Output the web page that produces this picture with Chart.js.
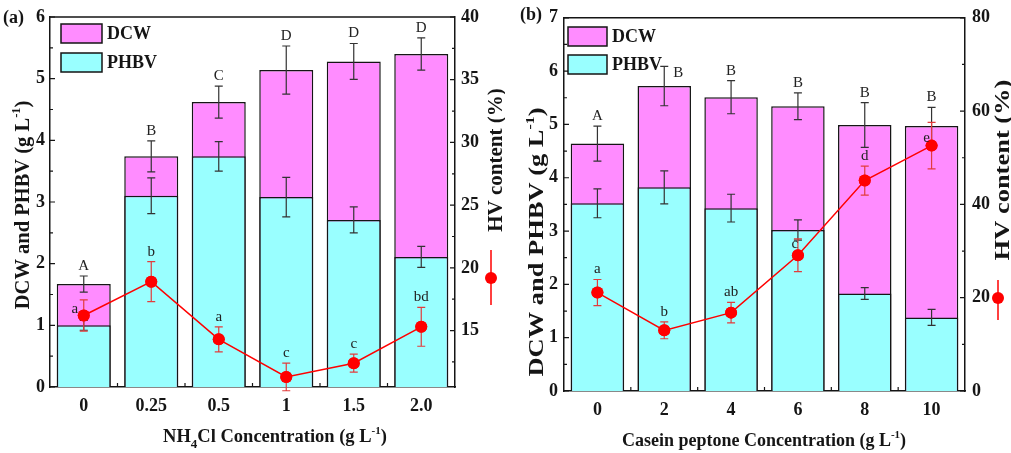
<!DOCTYPE html>
<html><head><meta charset="utf-8">
<script src="https://cdn.jsdelivr.net/npm/chart.js@4/dist/chart.umd.min.js"></script>
<style>
html,body{margin:0;padding:0;background:#fff;}
#wrap{position:relative;width:1011px;height:453px;overflow:hidden;}
canvas{position:absolute;top:0;}
</style></head><body>
<div id="wrap">
<canvas id="ca" width="505" height="453" style="left:0"></canvas>
<canvas id="cb" width="506" height="453" style="left:505px"></canvas>
</div>
<script>
// ---------- DATA: panel (a) NH4Cl ----------
const nh4clCategories = ['0', '0.25', '0.5', '1', '1.5', '2.0'];
const nh4clDCW = [1.67, 3.74, 4.62, 5.14, 5.28, 5.40];
const nh4clDCWErr = [0.13, 0.25, 0.26, 0.39, 0.29, 0.26];
const nh4clPHBV = [1.00, 3.10, 3.74, 3.08, 2.71, 2.11];
const nh4clPHBVErr = [0.08, 0.29, 0.24, 0.32, 0.21, 0.17];
const nh4clHV = [16.2, 18.9, 14.3, 11.3, 12.4, 15.3];
const nh4clHVErr = [1.24, 1.6, 1.0, 1.1, 0.72, 1.55];
const nh4clUpperLetters = ['A', 'B', 'C', 'D', 'D', 'D'];
const nh4clLowerLetters = ['a', 'b', 'a', 'c', 'c', 'bd'];
const nh4clLeftTicks = [0, 1, 2, 3, 4, 5, 6];
const nh4clRightTicks = [15, 20, 25, 30, 35, 40];

// ---------- DATA: panel (b) Casein peptone ----------
const caseinCategories = ['0', '2', '4', '6', '8', '10'];
const caseinDCW = [4.64, 5.72, 5.51, 5.34, 4.99, 4.97];
const caseinDCWErr = [0.33, 0.37, 0.31, 0.25, 0.42, 0.35];
const caseinPHBV = [3.52, 3.82, 3.43, 3.02, 1.83, 1.38];
const caseinPHBVErr = [0.27, 0.31, 0.26, 0.19, 0.11, 0.15];
const caseinHV = [21.1, 13.0, 16.8, 29.1, 45.1, 52.6];
const caseinHVErr = [2.8, 1.8, 2.2, 3.5, 3.1, 5.0];
const caseinUpperLetters = ['A', 'B', 'B', 'B', 'B', 'B'];
const caseinLowerLetters = ['a', 'b', 'ab', 'c', 'd', 'e'];
const caseinLeftTicks = [0, 1, 2, 3, 4, 5, 6, 7];
const caseinRightTicks = [0, 20, 40, 60, 80];

// ---------- STYLE ----------
const FONT = '"Liberation Serif", "Times New Roman", serif';
const MAGENTA = '#ff8cff';
const CYAN = '#99ffff';
const INK = '#151515';
const RED = '#ff0000';
const RED_ERR = '#e23c3c';

function richText(ctx, parts, cx, cy, rot, stretch) {
  ctx.save();
  ctx.translate(cx, cy);
  if (rot) ctx.rotate(rot);
  if (stretch) ctx.scale(stretch, 1);
  let total = 0;
  parts.forEach(p => { ctx.font = 'bold ' + p.s + 'px ' + FONT; p.w = ctx.measureText(p.t).width; total += p.w; });
  let x = -total / 2;
  ctx.textBaseline = 'alphabetic';
  ctx.textAlign = 'left';
  ctx.fillStyle = INK;
  parts.forEach(p => { ctx.font = 'bold ' + p.s + 'px ' + FONT; ctx.fillText(p.t, x, (p.dy || 0)); x += p.w; });
  ctx.restore();
}

function errBar(ctx, x, yTop, yBot, color, cap) {
  ctx.save();
  ctx.strokeStyle = color;
  ctx.lineWidth = 1.2;
  ctx.beginPath();
  ctx.moveTo(x, yTop); ctx.lineTo(x, yBot);
  ctx.moveTo(x - cap, yTop); ctx.lineTo(x + cap, yTop);
  ctx.moveTo(x - cap, yBot); ctx.lineTo(x + cap, yBot);
  ctx.stroke();
  ctx.restore();
}

function buildChart(canvasId, d, g) {
  const decor = {
    id: 'decor' + canvasId,
    afterDatasetDraw(chart, args) {
      const ds = chart.data.datasets[args.index];
      if (!ds.errors) return;
      const ctx = chart.ctx;
      const ys = chart.scales[ds.yAxisID || 'y'];
      args.meta.data.forEach((el, i) => {
        const v = ds.data[i], e = ds.errors[i];
        errBar(ctx, el.x, ys.getPixelForValue(v + e), ys.getPixelForValue(v - e), ds.errColor, 4);
      });
    },
    afterDraw(chart) {
      const ctx = chart.ctx;
      const ca = chart.chartArea;
      const xs = chart.scales.x, yl = chart.scales.y, yr = chart.scales.y2;
      ctx.save();
      ctx.strokeStyle = INK; ctx.lineWidth = 1.5;
      ctx.beginPath(); ctx.moveTo(ca.left, ca.top); ctx.lineTo(ca.right, ca.top); ctx.stroke();
      ctx.lineWidth = 1.2;
      ctx.beginPath();
      const lt = yl.ticks.map(t => t.value);
      lt.forEach((v, i) => {
        const p = yl.getPixelForValue(v);
        ctx.moveTo(ca.left, p); ctx.lineTo(ca.left + 5, p);
        if (i < lt.length - 1) {
          const m = yl.getPixelForValue((v + lt[i + 1]) / 2);
          ctx.moveTo(ca.left, m); ctx.lineTo(ca.left + 3, m);
        }
      });
      const rt = yr.ticks.map(t => t.value);
      const rstep = rt[1] - rt[0];
      rt.forEach((v) => {
        const p = yr.getPixelForValue(v);
        ctx.moveTo(ca.right, p); ctx.lineTo(ca.right - 5, p);
      });
      for (let v = rt[0] - rstep / 2; v < rt[rt.length - 1]; v += rstep) {
        if (v <= yr.min) continue;
        const m = yr.getPixelForValue(v);
        ctx.moveTo(ca.right, m); ctx.lineTo(ca.right - 3, m);
      }
      for (let i = 0; i < d.categories.length - 1; i++) {
        const b = (xs.getPixelForValue(i) + xs.getPixelForValue(i + 1)) / 2;
        ctx.moveTo(b, ca.bottom); ctx.lineTo(b, ca.bottom - 4);
      }
      ctx.stroke();

      const lineMeta = chart.getDatasetMeta(0);
      lineMeta.data.forEach((el, i) => {
        const v = d.hv[i], e = d.hvErr[i];
        errBar(ctx, el.x, yr.getPixelForValue(v + e), yr.getPixelForValue(v - e), RED_ERR, 4);
      });
      lineMeta.data.forEach(el => {
        ctx.beginPath(); ctx.fillStyle = RED; ctx.arc(el.x, el.y, 6, 0, Math.PI * 2); ctx.fill();
      });

      ctx.font = '15px ' + FONT;
      ctx.textAlign = 'center'; ctx.textBaseline = 'middle'; ctx.fillStyle = '#222';
      const dcwMeta = chart.getDatasetMeta(2);
      dcwMeta.data.forEach((el, i) => {
        const top = yl.getPixelForValue(d.dcw[i] + d.dcwErr[i]);
        const sp = g.upperShift[i];
        if (sp) ctx.fillText(d.upper[i], el.x + sp.dx, top + sp.dy);
        else ctx.fillText(d.upper[i], el.x, top - 10);
      });
      lineMeta.data.forEach((el, i) => {
        const top = yr.getPixelForValue(d.hv[i] + d.hvErr[i]);
        const sp = g.lowerShift[i];
        if (sp) ctx.fillText(d.lower[i], el.x + sp.dx, el.y + sp.dy);
        else ctx.fillText(d.lower[i], el.x, top - 10);
      });

      const lg = g.legend;
      [[2, lg.y1], [1, lg.y2]].forEach(([di, y]) => {
        const ds = chart.data.datasets[di];
        ctx.fillStyle = ds.backgroundColor;
        ctx.fillRect(lg.x, y, lg.w, lg.h);
        ctx.strokeStyle = INK; ctx.lineWidth = 1.5;
        ctx.strokeRect(lg.x, y, lg.w, lg.h);
        ctx.fillStyle = INK; ctx.font = 'bold 18px ' + FONT;
        ctx.textAlign = 'left'; ctx.textBaseline = 'middle';
        ctx.fillText(ds.label, lg.x + lg.w + 5, y + lg.h / 2 + 1);
      });

      ctx.font = 'bold 18px ' + FONT; ctx.textAlign = 'left'; ctx.textBaseline = 'middle'; ctx.fillStyle = INK;
      ctx.fillText(g.panel, g.panelX, g.panelY);

      const ys = g.ySize;
      richText(ctx, [{t: 'DCW and PHBV (g L', s: ys}, {t: '-1', s: ys * 0.6, dy: -ys * 0.45}, {t: ')', s: ys}], g.yTitle[0], g.yTitle[1], -Math.PI / 2, g.titleStretch);
      richText(ctx, g.xTitleParts, g.xTitle[0], g.xTitle[1], 0);
      richText(ctx, [{t: 'HV content (%)', s: g.rSize}], g.rTitle[0], g.rTitle[1], -Math.PI / 2, g.titleStretch);
      ctx.strokeStyle = RED; ctx.lineWidth = 1.5;
      ctx.beginPath(); ctx.moveTo(g.hvLeg.x, g.hvLeg.y0); ctx.lineTo(g.hvLeg.x, g.hvLeg.y1); ctx.stroke();
      ctx.fillStyle = RED; ctx.beginPath(); ctx.arc(g.hvLeg.x, g.hvLeg.dot, 6, 0, Math.PI * 2); ctx.fill();
      ctx.restore();
    }
  };

  return new Chart(document.getElementById(canvasId), {
    data: {
      labels: d.categories,
      datasets: [
        {type: 'line', label: 'HV content (%)', data: d.hv, yAxisID: 'y2', order: 0,
         borderColor: RED, borderWidth: 1.5, pointRadius: 6, pointBackgroundColor: RED,
         pointBorderWidth: 0, tension: 0},
        {type: 'bar', label: 'PHBV', data: d.phbv, yAxisID: 'y', order: 1, errors: d.phbvErr, errColor: '#333',
         backgroundColor: CYAN, borderColor: INK, borderWidth: 1.5, grouped: false,
         barPercentage: 0.8, categoryPercentage: 1.0},
        {type: 'bar', label: 'DCW', data: d.dcw, yAxisID: 'y', order: 2, errors: d.dcwErr, errColor: '#333',
         backgroundColor: MAGENTA, borderColor: INK, borderWidth: 1.5, grouped: false,
         barPercentage: 0.8, categoryPercentage: 1.0}
      ]
    },
    options: {
      responsive: false, animation: false, devicePixelRatio: 1,
      layout: {padding: {top: g.top, left: 0, right: 0, bottom: 0}},
      plugins: {legend: {display: false}, tooltip: {enabled: false}},
      scales: {
        x: {type: 'category', offset: true,
            grid: {display: false, drawTicks: false},
            border: {display: true, color: INK, width: 1.5},
            ticks: {font: {family: FONT, size: 18, weight: 'bold'}, color: INK, padding: 9},
            afterFit(s) { s.height = g.bottomH; }},
        y: {type: 'linear', position: 'left', min: d.leftTicks[0], max: d.leftTicks[d.leftTicks.length - 1],
            grid: {display: false, drawTicks: false},
            border: {display: true, color: INK, width: 1.5},
            ticks: {font: {family: FONT, size: 18, weight: 'bold'}, color: INK, padding: g.lPad},
            afterBuildTicks(s) { s.ticks = d.leftTicks.map(v => ({value: v})); },
            afterFit(s) { s.width = g.leftW; }},
        y2: {type: 'linear', position: 'right', min: d.rightMin, max: d.rightTicks[d.rightTicks.length - 1],
            grid: {display: false, drawTicks: false},
            border: {display: true, color: INK, width: 1.5},
            ticks: {font: {family: FONT, size: 18, weight: 'bold'}, color: INK, padding: g.rPad},
            afterBuildTicks(s) { s.ticks = d.rightTicks.map(v => ({value: v})); },
            afterFit(s) { s.width = g.rightW; }}
      }
    },
    plugins: [decor]
  });
}

buildChart('ca', {
  categories: nh4clCategories, dcw: nh4clDCW, dcwErr: nh4clDCWErr, phbv: nh4clPHBV, phbvErr: nh4clPHBVErr,
  hv: nh4clHV, hvErr: nh4clHVErr, upper: nh4clUpperLetters, lower: nh4clLowerLetters,
  leftTicks: nh4clLeftTicks, rightTicks: nh4clRightTicks, rightMin: 10.5
}, {
  top: 17, leftW: 50, rightW: 50, bottomH: 66, lPad: 5, rPad: 6,
  upperShift: {}, lowerShift: {0: {dx: -9, dy: -6}},
  legend: {x: 61, w: 41, h: 19, y1: 24, y2: 53},
  panel: '(a)', panelX: 3, panelY: 18,
  ySize: 20.5, yTitle: [29, 205], rSize: 21, rTitle: [502, 160], titleStretch: 1,
  xTitle: [275, 442],
  xTitleParts: [{t: 'NH', s: 18.5}, {t: '4', s: 13, dy: 6}, {t: 'Cl Concentration (g L', s: 18.5}, {t: '-1', s: 11, dy: -8}, {t: ')', s: 18.5}],
  hvLeg: {x: 491, y0: 250, y1: 305, dot: 278}
});

buildChart('cb', {
  categories: caseinCategories, dcw: caseinDCW, dcwErr: caseinDCWErr, phbv: caseinPHBV, phbvErr: caseinPHBVErr,
  hv: caseinHV, hvErr: caseinHVErr, upper: caseinUpperLetters, lower: caseinLowerLetters,
  leftTicks: caseinLeftTicks, rightTicks: caseinRightTicks, rightMin: 0
}, {
  top: 15, leftW: 59, rightW: 46, bottomH: 62, lPad: 6, rPad: 7,
  upperShift: {1: {dx: 14, dy: 7}}, lowerShift: {3: {dx: -3, dy: -11}, 5: {dx: -5, dy: -8}},
  legend: {x: 63, w: 39, h: 19, y1: 27, y2: 55},
  panel: '(b)', panelX: 15, panelY: 15,
  ySize: 21, yTitle: [38, 242], rSize: 21, rTitle: [504, 170], titleStretch: 1.26,
  xTitle: [259, 446],
  xTitleParts: [{t: 'Casein peptone Concentration (g L', s: 18}, {t: '-1', s: 11, dy: -8}, {t: ')', s: 18}],
  hvLeg: {x: 493, y0: 280, y1: 320, dot: 298}
});
</script>
</body></html>
